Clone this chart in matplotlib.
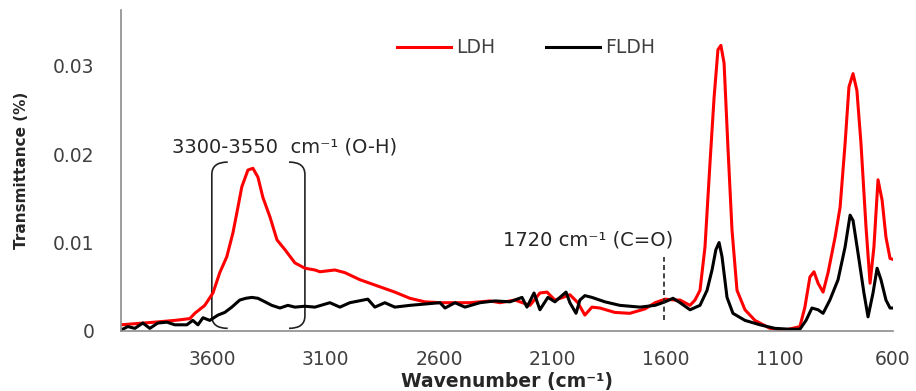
import matplotlib.pyplot as plt
from matplotlib.path import Path
from matplotlib.patches import PathPatch

# LDH spectrum (red)
ldh_wn = [4000, 3851, 3763, 3697, 3675, 3631, 3595, 3565, 3534, 3507, 3485, 3468,
          3441, 3419, 3397, 3375, 3344, 3313, 3278, 3234, 3190, 3146, 3124, 3058,
          3014, 2948, 2882, 2794, 2728, 2662, 2595, 2463, 2375, 2331, 2265, 2199,
          2155, 2124, 2089, 2054, 2023, 1988, 1957, 1926, 1891, 1825, 1759, 1692,
          1648, 1604, 1560, 1538, 1494, 1472, 1450, 1428, 1406, 1388, 1371, 1358,
          1344, 1327, 1309, 1287, 1252, 1208, 1142, 1076, 1010, 988, 966, 948,
          930, 908, 886, 855, 833, 811, 794, 776, 759, 741, 719, 701, 684, 666,
          648, 631, 613, 600]
ldh_t = [0.0007, 0.0010, 0.0012, 0.0014, 0.0020, 0.0029, 0.0043, 0.0066, 0.0084,
         0.0111, 0.0140, 0.0163, 0.0182, 0.0184, 0.0174, 0.0151, 0.0129, 0.0103,
         0.0092, 0.0077, 0.0071, 0.0069, 0.0067, 0.0069, 0.0066, 0.0058, 0.0052,
         0.0044, 0.0037, 0.0033, 0.0032, 0.0032, 0.0034, 0.0032, 0.0035, 0.0029,
         0.0043, 0.0044, 0.0035, 0.0038, 0.0041, 0.0032, 0.0018, 0.0027, 0.0026,
         0.0021, 0.0020, 0.0025, 0.0032, 0.0036, 0.0035, 0.0035, 0.0029, 0.0035,
         0.0046, 0.0095, 0.0190, 0.0264, 0.0318, 0.0323, 0.0303, 0.0208, 0.0114,
         0.0046, 0.0024, 0.0012, 0.0003, 0.0001, 0.0005, 0.0027, 0.0061, 0.0067,
         0.0054, 0.0044, 0.0066, 0.0106, 0.0140, 0.0212, 0.0276, 0.0291, 0.0272,
         0.0212, 0.0118, 0.0054, 0.0095, 0.0171, 0.0148, 0.0106, 0.0082, 0.0081]

# FLDH spectrum (black)
fldh_wn = [4000, 3970, 3939, 3904, 3873, 3838, 3798, 3763, 3710, 3684, 3661, 3639,
           3609, 3573, 3543, 3512, 3477, 3450, 3424, 3397, 3366, 3336, 3300, 3265,
           3234, 3190, 3146, 3080, 3036, 2992, 2913, 2882, 2838, 2794, 2728, 2595,
           2573, 2529, 2485, 2419, 2353, 2287, 2234, 2212, 2181, 2155, 2120, 2089,
           2067, 2040, 2023, 1996, 1979, 1957, 1926, 1869, 1803, 1714, 1648, 1604,
           1569, 1538, 1494, 1450, 1419, 1397, 1380, 1366, 1353, 1331, 1305, 1252,
           1186, 1120, 1054, 1010, 983, 957, 930, 908, 878, 842, 811, 789, 776,
           754, 728, 710, 688, 670, 653, 631, 613, 600]
fldh_t = [0.0001, 0.0005, 0.0003, 0.0009, 0.0003, 0.0009, 0.0010, 0.0007, 0.0007,
          0.0012, 0.0007, 0.0015, 0.0012, 0.0018, 0.0021, 0.0027, 0.0035, 0.0037,
          0.0038, 0.0037, 0.0033, 0.0029, 0.0026, 0.0029, 0.0027, 0.0028, 0.0027,
          0.0032, 0.0027, 0.0032, 0.0036, 0.0027, 0.0032, 0.0027, 0.0029, 0.0032,
          0.0026, 0.0032, 0.0027, 0.0032, 0.0034, 0.0033, 0.0038, 0.0027, 0.0043,
          0.0024, 0.0038, 0.0033, 0.0038, 0.0044, 0.0032, 0.0020, 0.0035, 0.0040,
          0.0038, 0.0033, 0.0029, 0.0027, 0.0029, 0.0033, 0.0037, 0.0032, 0.0024,
          0.0029, 0.0046, 0.0069, 0.0092, 0.0100, 0.0084, 0.0038, 0.0020, 0.0012,
          0.0007, 0.0003, 0.0002, 0.0002, 0.0012, 0.0026, 0.0024, 0.0020, 0.0035,
          0.0058, 0.0095, 0.0131, 0.0125, 0.0088, 0.0043, 0.0016, 0.0043, 0.0071,
          0.0058, 0.0035, 0.0026, 0.0026]

xticks = [3600, 3100, 2600, 2100, 1600, 1100, 600]
yticks = [0, 0.01, 0.02, 0.03]
ytick_labels = ['0', '0.01', '0.02', '0.03']

txt = '#404040'

fig = plt.figure(figsize=(9.16, 3.91), dpi=100)
ax = fig.add_axes([121 / 916, 1 - 331 / 391, (893 - 121) / 916, (331 - 10) / 391])

ax.plot(ldh_wn, ldh_t, color='#ff0000', lw=2.2, label='LDH', solid_joinstyle='round')
ax.plot(fldh_wn, fldh_t, color='black', lw=2.2, label='FLDH', solid_joinstyle='round')

ax.set_xlim(4000, 600)
ax.set_ylim(0, 0.0363)
ax.set_xticks(xticks)
ax.set_xticklabels([str(v) for v in xticks])
ax.set_yticks(yticks)
ax.set_yticklabels(ytick_labels)
ax.tick_params(length=0, labelsize=13.5, labelcolor=txt)
ax.tick_params(axis='x', pad=14)
ax.tick_params(axis='y', pad=19)

for s in ['top', 'right']:
    ax.spines[s].set_visible(False)
for s in ['left', 'bottom']:
    ax.spines[s].set_color('#8c8c8c')
    ax.spines[s].set_linewidth(1.2)

ax.set_xlabel('Wavenumber (cm⁻¹)', fontsize=13.5, fontweight='bold', color='#262626', labelpad=2)
ax.set_ylabel('Transmittance (%)', fontsize=11, fontweight='bold', color='#262626', labelpad=17)

leg = ax.legend(loc='center', bbox_to_anchor=(0.525, 0.882), ncol=2, frameon=False,
                fontsize=13.5, handlelength=2.85, handletextpad=0.3, columnspacing=2.7)
for t in leg.get_texts():
    t.set_color(txt)

# O-H band annotation with rounded brackets
ax.text(3278, 0.0208, '3300-3550  cm⁻¹ (O-H)', fontsize=14, color='#262626',
        ha='center', va='center')
x0, x1, yb, yt = 3600, 3190, 0.0003, 0.0191
dx, dy = 70, 0.0014
left = Path([(x0 - dx, yt), (x0, yt), (x0, yt - dy), (x0, yb + dy), (x0, yb), (x0 - dx, yb)],
            [Path.MOVETO, Path.CURVE3, Path.CURVE3, Path.LINETO, Path.CURVE3, Path.CURVE3])
right = Path([(x1 + dx, yt), (x1, yt), (x1, yt - dy), (x1, yb + dy), (x1, yb), (x1 + dx, yb)],
             [Path.MOVETO, Path.CURVE3, Path.CURVE3, Path.LINETO, Path.CURVE3, Path.CURVE3])
for p in (left, right):
    ax.add_patch(PathPatch(p, fill=False, edgecolor='#222222', lw=1.2))

# C=O annotation
ax.text(1943, 0.0103, '1720 cm⁻¹ (C=O)', fontsize=14, color='#262626',
        ha='center', va='center')
ax.plot([1609, 1609], [0.0012, 0.0084], color='#222222', lw=1.2, ls=(0, (3, 2)))

fig.savefig('out.png', dpi=100)
